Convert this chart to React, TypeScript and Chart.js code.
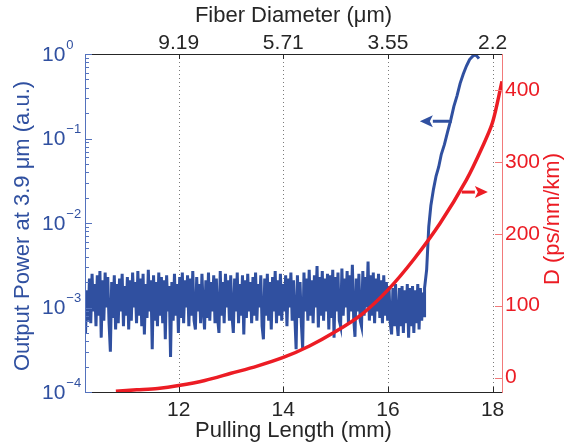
import React, { useEffect, useRef } from 'react';
import { Chart, registerables } from 'chart.js';
Chart.register(...registerables);

const FONT = "'Liberation Sans', Arial, Helvetica, sans-serif";
const BLUE = '#3050a0';
const BLUE_AXIS = '#5472bd';
const RED = '#ec1c24';
const RED_AXIS = '#f27a7a';
const DARK = '#262626';

// Axis ticks / labels
const X_TICKS = [12, 14, 16, 18];
const DIAMETER_LABELS = ['9.19', '5.71', '3.55', '2.2'];
const D_TICKS = [0, 100, 200, 300, 400];
const POWER_DECADES = [-4, -3, -2, -1, 0];
const X_MIN = 10.21;
const X_MAX = 18.18;

// Output power (a.u.) – noisy floor, sampled every 0.025 mm from 10.22 mm
const NOISE_X0 = 10.22;
const NOISE_STEP = 0.025;
const noisePower = [
  5e-4, 16e-4, 7e-4, 22e-4, 6.5e-4, 25e-4, 9e-4, 19e-4, 6e-4, 24e-4, 8e-4, 27e-4, 4.4e-4, 21e-4, 7e-4, 26e-4, 10e-4, 23e-4, 6.5e-4, 3.0e-4,
  20e-4, 7.5e-4, 24e-4, 5.5e-4, 19e-4, 6.5e-4, 22e-4, 9e-4, 25e-4, 6e-4, 18e-4, 8e-4, 23e-4, 5.5e-4, 21e-4, 7e-4, 26e-4, 10e-4, 20e-4, 6.5e-4,
  27e-4, 8e-4, 22e-4, 6e-4, 25e-4, 4.8e-4, 19e-4, 7.5e-4, 28e-4, 9e-4, 21e-4, 3.2e-4, 24e-4, 7e-4, 20e-4, 6e-4, 26e-4, 8e-4, 23e-4, 6.5e-4,
  21e-4, 4.2e-4, 24e-4, 9e-4, 18e-4, 2.6e-4, 20e-4, 7e-4, 25e-4, 8e-4, 19e-4, 5e-4, 23e-4, 7.5e-4, 26e-4, 6.5e-4, 21e-4, 10e-4, 24e-4, 6e-4,
  22e-4, 8e-4, 27e-4, 7e-4, 5.5e-4, 23e-4, 9e-4, 19e-4, 6.5e-4, 25e-4, 10e-4, 5.5e-4, 21e-4, 7.5e-4, 26e-4, 7e-4, 20e-4, 9e-4, 24e-4, 6.5e-4,
  22e-4, 7.5e-4, 5e-4, 27e-4, 8e-4, 20e-4, 6.5e-4, 25e-4, 10e-4, 21e-4, 7e-4, 24e-4, 8e-4, 5e-4, 22e-4, 9e-4, 26e-4, 6.5e-4, 19e-4, 8e-4,
  24e-4, 4.8e-4, 21e-4, 7.5e-4, 25e-4, 9e-4, 20e-4, 6.5e-4, 23e-4, 8e-4, 26e-4, 7e-4, 19e-4, 10e-4, 24e-4, 6e-4, 4.2e-4, 22e-4, 8e-4, 25e-4,
  7e-4, 20e-4, 5.5e-4, 23e-4, 9e-4, 27e-4, 6.5e-4, 21e-4, 8e-4, 25e-4, 7e-4, 19e-4, 9e-4, 24e-4, 6e-4, 22e-4, 10e-4, 26e-4, 7e-4, 21e-4,
  8e-4, 3.2e-4, 24e-4, 7.5e-4, 20e-4, 6.5e-4, 3.3e-4, 26e-4, 9e-4, 22e-4, 7e-4, 28e-4, 8e-4, 21e-4, 6.5e-4, 24e-4, 10e-4, 31e-4, 5.8e-4, 23e-4,
  8e-4, 27e-4, 7e-4, 22e-4, 9e-4, 25e-4, 5.5e-4, 24e-4, 7.5e-4, 28e-4, 4.4e-4, 23e-4, 9e-4, 26e-4, 7e-4, 6e-4, 29e-4, 8e-4, 22e-4, 10e-4,
  27e-4, 6.5e-4, 24e-4, 9e-4, 32e-4, 7.5e-4, 4.5e-4, 22e-4, 9e-4, 25e-4, 7e-4, 6e-4, 27e-4, 8e-4, 23e-4, 10e-4, 35e-4, 7e-4, 24e-4, 8e-4,
  26e-4, 6.5e-4, 22e-4, 9e-4, 25e-4, 7.5e-4, 21e-4, 6.5e-4, 24e-4, 8e-4, 20e-4, 7e-4, 18e-4, 6.5e-4, 4.8e-4, 17e-4, 6e-4, 19e-4, 7e-4, 4.6e-4,
  17e-4, 6e-4, 18e-4, 5e-4, 16e-4, 6.5e-4, 19e-4, 4.4e-4, 17e-4, 6e-4, 18e-4, 5e-4, 16e-4, 6.5e-4, 19e-4, 5.5e-4, 17e-4, 7e-4, 15e-4, 8e-4,
];

// Output power – steep rise
const riseX = [16.70, 16.74, 16.78, 16.82, 16.87, 16.92, 16.97, 17.02, 17.08, 17.14, 17.20, 17.26, 17.32, 17.38, 17.44, 17.50, 17.56, 17.62, 17.67, 17.71, 17.74];
const risePower = [17e-4, 28e-4, 9e-3, 1.6e-2, 2.5e-2, 3.6e-2, 4.6e-2, 6.5e-2, 8.5e-2, 0.12, 0.165, 0.24, 0.32, 0.45, 0.58, 0.72, 0.86, 0.94, 0.98, 0.93, 0.88];

// Dispersion D (ps/nm/km)
const dispX = [10.8, 11.2, 11.6, 12.0, 12.5, 13.0, 13.5, 14.0, 14.5, 15.0, 15.5, 16.0, 16.5, 17.0, 17.5, 17.8, 18.0, 18.18];
const dispD = [-19, -17, -15, -11, -4, 6, 16, 28, 44, 64, 88, 122, 165, 215, 275, 320, 355, 412];

// Arrow annotations (data coordinates)
const blueArrow = { from: 17.22, to: 16.61, power: 0.16 };
const redArrow = { from: 17.41, to: 17.91, d: 258 };

const powerPoints = [
  ...noisePower.map((p, i) => ({ x: NOISE_X0 + i * NOISE_STEP, y: p })),
  ...riseX.map((x, i) => ({ x, y: risePower[i] })),
];
const dispPoints = dispX.map((x, i) => ({ x, y: dispD[i] }));

function arrow(ctx: CanvasRenderingContext2D, x0: number, x1: number, y: number, color: string) {
  const dir = Math.sign(x1 - x0);
  const head = 13;
  ctx.save();
  ctx.strokeStyle = color;
  ctx.fillStyle = color;
  ctx.lineWidth = 3;
  ctx.beginPath();
  ctx.moveTo(x0, y);
  ctx.lineTo(x1 - dir * head, y);
  ctx.stroke();
  ctx.beginPath();
  ctx.moveTo(x1, y);
  ctx.lineTo(x1 - dir * head, y - 6);
  ctx.lineTo(x1 - dir * head + dir * 3, y);
  ctx.lineTo(x1 - dir * head, y + 6);
  ctx.closePath();
  ctx.fill();
  ctx.restore();
}

const decorPlugin = {
  id: 'decor',
  beforeDatasetsDraw(chart: any) {
    const { ctx, chartArea: a, scales } = chart;
    ctx.save();
    ctx.strokeStyle = '#7a7a7a';
    ctx.lineWidth = 1;
    ctx.setLineDash([1, 3]);
    X_TICKS.forEach((v) => {
      const px = Math.round(scales.x.getPixelForValue(v)) + 0.5;
      ctx.beginPath();
      ctx.moveTo(px, a.top);
      ctx.lineTo(px, a.bottom);
      ctx.stroke();
    });
    ctx.restore();
  },
  afterDraw(chart: any) {
    const { ctx, chartArea: a, scales } = chart;
    const y = scales.y;
    const y2 = scales.y2;
    const x = scales.x;
    ctx.save();
    ctx.setLineDash([]);
    ctx.lineWidth = 1;
    // top & bottom frame
    ctx.strokeStyle = DARK;
    ctx.beginPath();
    ctx.moveTo(a.left, a.top + 0.5);
    ctx.lineTo(a.right, a.top + 0.5);
    ctx.moveTo(a.left, a.bottom + 0.5);
    ctx.lineTo(a.right, a.bottom + 0.5);
    X_TICKS.forEach((v) => {
      const px = Math.round(x.getPixelForValue(v)) + 0.5;
      ctx.moveTo(px, a.bottom);
      ctx.lineTo(px, a.bottom - 5);
      ctx.moveTo(px, a.top);
      ctx.lineTo(px, a.top + 5);
    });
    ctx.stroke();
    // left axis
    ctx.strokeStyle = BLUE_AXIS;
    ctx.beginPath();
    ctx.moveTo(a.left + 0.5, a.top);
    ctx.lineTo(a.left + 0.5, a.bottom + 1);
    POWER_DECADES.forEach((d) => {
      const py = Math.round(y.getPixelForValue(Math.pow(10, d))) + 0.5;
      ctx.moveTo(a.left, py);
      ctx.lineTo(a.left + 7, py);
      if (d < 0) {
        for (let m = 2; m <= 9; m++) {
          const pm = Math.round(y.getPixelForValue(m * Math.pow(10, d))) + 0.5;
          ctx.moveTo(a.left, pm);
          ctx.lineTo(a.left + 4, pm);
        }
      }
    });
    ctx.stroke();
    // right axis
    ctx.strokeStyle = RED_AXIS;
    ctx.beginPath();
    ctx.moveTo(a.right + 0.5, a.top);
    ctx.lineTo(a.right + 0.5, a.bottom + 1);
    D_TICKS.forEach((v) => {
      const py = Math.round(y2.getPixelForValue(v)) + 0.5;
      ctx.moveTo(a.right, py);
      ctx.lineTo(a.right - 7, py);
    });
    ctx.stroke();

    // left tick labels 10^n
    ctx.fillStyle = BLUE;
    ctx.textAlign = 'left';
    ctx.textBaseline = 'middle';
    POWER_DECADES.forEach((d) => {
      const py = y.getPixelForValue(Math.pow(10, d));
      ctx.font = `21px ${FONT}`;
      ctx.fillText('10', 42, py + 1);
      const w = ctx.measureText('10').width;
      ctx.font = `13px ${FONT}`;
      ctx.fillText(d === 0 ? '0' : '\u2212' + String(-d), 42 + w + 1, py - 9);
    });

    // axis titles (rotated)
    ctx.font = `22px ${FONT}`;
    ctx.textAlign = 'center';
    ctx.textBaseline = 'middle';
    ctx.save();
    ctx.translate(23, 226);
    ctx.rotate(-Math.PI / 2);
    ctx.fillStyle = BLUE;
    ctx.fillText('Output Power at 3.9 \u03bcm (a.u.)', 0, 0);
    ctx.restore();
    ctx.save();
    ctx.translate(553, 219);
    ctx.rotate(-Math.PI / 2);
    ctx.fillStyle = RED;
    ctx.fillText('D (ps/nm/km)', 0, 0);
    ctx.restore();

    // arrows
    const by = y.getPixelForValue(blueArrow.power);
    arrow(ctx, x.getPixelForValue(blueArrow.from), x.getPixelForValue(blueArrow.to), by, BLUE);
    const ry = y2.getPixelForValue(redArrow.d);
    arrow(ctx, x.getPixelForValue(redArrow.from), x.getPixelForValue(redArrow.to), ry, RED);
    ctx.restore();
  },
};

const noGrid = { display: false, drawTicks: false, tickLength: 0 };

export default function App() {
  const ref = useRef<HTMLCanvasElement>(null);
  useEffect(() => {
    if (!ref.current) return;
    Chart.defaults.font.family = FONT;
    const chart = new Chart(ref.current, {
      type: 'line',
      data: {
        datasets: [
          {
            label: 'D',
            data: dispPoints,
            xAxisID: 'x',
            yAxisID: 'y2',
            borderColor: RED,
            borderWidth: 3.5,
            pointRadius: 0,
            tension: 0.3,
            fill: false,
          },
          {
            label: 'Output Power',
            data: powerPoints,
            xAxisID: 'x',
            yAxisID: 'y',
            borderColor: BLUE,
            borderWidth: 3,
            pointRadius: 0,
            tension: 0,
            fill: false,
          },
        ],
      },
      plugins: [decorPlugin],
      options: {
        responsive: false,
        animation: false,
        devicePixelRatio: 1,
        layout: { padding: 0 },
        plugins: { legend: { display: false }, tooltip: { enabled: false } },
        scales: {
          x: {
            type: 'linear',
            position: 'bottom',
            min: X_MIN,
            max: X_MAX,
            afterBuildTicks: (s: any) => { s.ticks = X_TICKS.map((v) => ({ value: v })); },
            afterFit: (s: any) => { s.height = 54; },
            grid: noGrid,
            border: { display: false },
            ticks: { font: { size: 21, family: FONT }, color: DARK, padding: 6, maxRotation: 0 },
            title: { display: true, text: 'Pulling Length (mm)', font: { size: 22, family: FONT }, color: DARK, padding: { top: 0, bottom: 2 } },
          },
          x2: {
            type: 'linear',
            position: 'top',
            min: X_MIN,
            max: X_MAX,
            afterBuildTicks: (s: any) => { s.ticks = X_TICKS.map((v) => ({ value: v })); },
            afterFit: (s: any) => { s.height = 54; },
            grid: noGrid,
            border: { display: false },
            ticks: {
              font: { size: 21, family: FONT },
              color: DARK,
              padding: -2,
              maxRotation: 0,
              callback: (v: any) => DIAMETER_LABELS[X_TICKS.indexOf(Number(v))],
            },
            title: { display: true, text: 'Fiber Diameter (\u03bcm)', font: { size: 22, family: FONT }, color: DARK, padding: { top: 3, bottom: 0 } },
          },
          y: {
            type: 'logarithmic',
            position: 'left',
            min: 1e-4,
            max: 1,
            afterFit: (s: any) => { s.width = 85; },
            grid: noGrid,
            border: { display: false },
            ticks: { display: false },
          },
          y2: {
            type: 'linear',
            position: 'right',
            min: -20,
            max: 450,
            afterBuildTicks: (s: any) => { s.ticks = D_TICKS.map((v) => ({ value: v })); },
            afterFit: (s: any) => { s.width = 63; },
            grid: noGrid,
            border: { display: false },
            ticks: { font: { size: 21, family: FONT }, color: RED, padding: 3 },
          },
        },
      },
    } as any);
    return () => chart.destroy();
  }, []);
  return (
    <div style={{ position: 'absolute', left: 0, top: 0, width: 565, height: 446, background: '#fff' }}>
      <canvas ref={ref} width={565} height={446} style={{ width: 565, height: 446, display: 'block' }} />
    </div>
  );
}
